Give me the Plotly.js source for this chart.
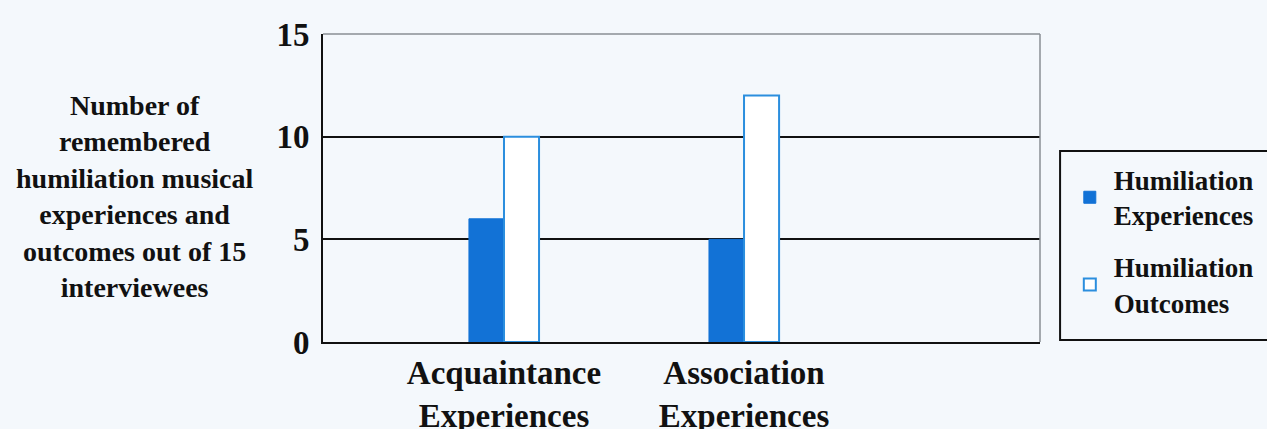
<!DOCTYPE html>
<html>
<head>
<meta charset="utf-8">
<script src="https://cdn.plot.ly/plotly-3.0.1.min.js"></script>
<style>html,body{margin:0;padding:0;background:#f4f8fc;}#chart{width:1267px;height:429px;}</style>
</head>
<body>
<div id="chart"></div>
<script>
const categories = ["Acquaintance<br>Experiences", "Association<br>Experiences"];
const experiences = [6, 5];
const outcomes = [10, 12];
const seriesNames = ["Humiliation<br>Experiences", "Humiliation<br>Outcomes"];
const yTicks = [0, 5, 10, 15];
const yTitle = "Number of<br>remembered<br>humiliation musical<br>experiences and<br>outcomes out of 15<br>interviewees";

const FONT = "Liberation Serif, Times New Roman, serif";
const BG = "#f4f8fc";

const traces = [
  {type: "bar", x: categories, y: experiences, name: seriesNames[0], legendgroup: "a",
   marker: {color: "#1272d6", line: {color: "#1272d6", width: 1}}},
  {type: "bar", x: categories, y: outcomes, name: seriesNames[1], legendgroup: "b",
   marker: {color: "#ffffff", line: {color: "#2b8ede", width: 2}}}
];

const layout = {
  width: 1267, height: 429,
  paper_bgcolor: BG, plot_bgcolor: BG,
  margin: {l: 323, r: 227, t: 34, b: 87, autoexpand: false},
  barmode: "group", bargap: 0.708, bargroupgap: 0,
  showlegend: true,
  font: {family: FONT, color: "#111", weight: "bold"},
  xaxis: {
    type: "category", range: [-0.754, 2.233], fixedrange: true,
    showgrid: false, showline: true, linecolor: "#111", linewidth: 2,
    ticks: "", tickfont: {family: FONT, size: 33, color: "#111", weight: "bold"},
    ticklabelstandoff: 0, zeroline: false
  },
  yaxis: {
    range: [0, 15], tickvals: yTicks, ticktext: yTicks.map(String),
    showgrid: true, gridcolor: "#111", gridwidth: 1.8,
    showline: true, linecolor: "#111", linewidth: 2, zeroline: false,
    ticks: "", tickfont: {family: FONT, size: 33, color: "#111", weight: "bold"},
    ticklabelstandoff: 5
  },
  legend: {
    x: 1.036, y: 0.605, xanchor: "left", yanchor: "top",
    bgcolor: "rgba(0,0,0,0)", bordercolor: "rgba(0,0,0,0)", borderwidth: 0,
    font: {family: FONT, size: 27, color: "#111", weight: "bold"},
    traceorder: "grouped", tracegroupgap: 14, itemwidth: 38
  },
  shapes: [
    {type: "line", xref: "paper", yref: "paper", x0: 0, x1: 1, y0: 1, y1: 1, line: {color: "#8a8f94", width: 1.5}},
    {type: "line", xref: "paper", yref: "paper", x0: 1, x1: 1, y0: 0, y1: 1, line: {color: "#8a8f94", width: 1.5}},
    {type: "rect", xref: "paper", yref: "paper", x0: 1.028, x1: 1.4, y0: 0.0065, y1: 0.62, line: {color: "#111", width: 2}, fillcolor: "rgba(0,0,0,0)"}
  ],
  annotations: [
    {text: yTitle, xref: "paper", yref: "paper", x: -0.263, y: 0.474, xanchor: "center", yanchor: "middle",
     showarrow: false, align: "center", font: {family: FONT, size: 28, color: "#111", weight: "bold"}}
  ]
};

Plotly.newPlot("chart", traces, layout, {displayModeBar: false, staticPlot: true});
</script>
</body>
</html>
